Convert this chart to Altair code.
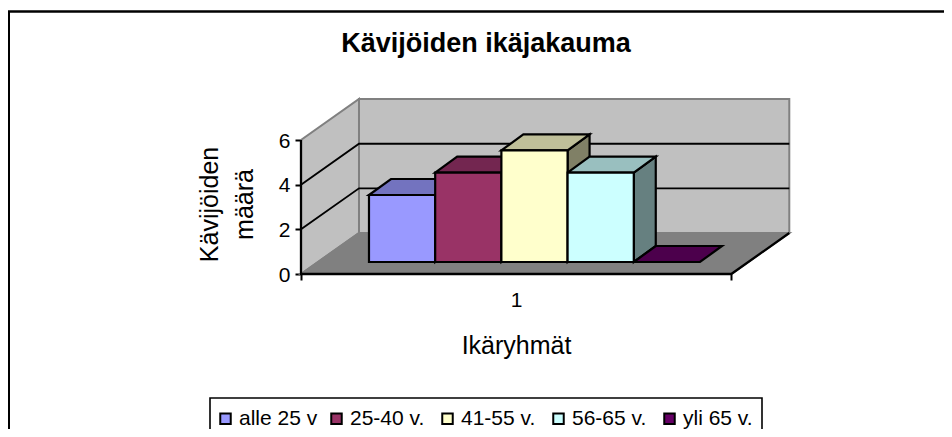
import altair as alt
import pandas as pd

SERIES = ["alle 25 v", "25-40 v.", "41-55 v.", "56-65 v.", "yli 65 v."]
VALUES = [3, 4, 5, 4, 0]
FRONT = ["#9999FF", "#993366", "#FFFFCC", "#CCFFFF", "#660066"]
TOP = ["#7373BF", "#732650", "#BFBF99", "#99BFBF", "#4C004C"]
SIDE = ["#4D4D80", "#4D1A33", "#808066", "#668080", "#330033"]
Y_TICKS = [0, 2, 4, 6]
GRID = [2, 4]

W, H = 936, 421
PX_X, PX_Y = 66.2, 22.33
ORIGIN_X, ORIGIN_Y = 293, 266
FLOOR_W = 6.5
WALL_DX, WALL_DY = 0.876, 1.836
BAR_X, BAR_Y = 1.027, 0.537
DEPTH_DX, DEPTH_DY = 0.332, 0.717
MAX_V = 6

xs = alt.Scale(domain=[-ORIGIN_X / PX_X, (W - ORIGIN_X) / PX_X], nice=False, zero=False)
ys = alt.Scale(domain=[-(H - ORIGIN_Y) / PX_Y, ORIGIN_Y / PX_Y], nice=False, zero=False)

x_mid = FLOOR_W / 2
x_axis = alt.Axis(
    values=[0, x_mid, FLOOR_W], offset=-(H - ORIGIN_Y), domain=False, grid=False,
    tickColor="black", tickWidth=2, tickSize=6,
    tickOpacity={"condition": {"test": f"datum.value == {x_mid}", "value": 0}, "value": 1},
    labelExpr=f"datum.value == {x_mid} ? '1' : ''",
    labelFontSize=21, labelColor="black", labelPadding=9,
    title="Ikäryhmät", titleFontSize=25, titleFontWeight="normal", titleColor="black",
    titleX=508, titleY=79, titleBaseline="alphabetic", titleAlign="center",
)
y_axis = alt.Axis(
    values=Y_TICKS, offset=-ORIGIN_X, domain=False, grid=False,
    tickColor="black", tickWidth=2, tickSize=6,
    labelFontSize=21, labelColor="black", labelPadding=5, labelOffset=1,
    title=["Kävijöiden", "määrä"], titleFontSize=25, titleFontWeight="normal", titleColor="black",
    titleX=-79, titleY=196, titleLineHeight=35, titleAlign="center",
)


def X():
    return alt.X("x:Q", scale=xs, axis=x_axis)


def Y():
    return alt.Y("y:Q", scale=ys, axis=y_axis)


# walls and floor
back = pd.DataFrame([{"x": WALL_DX, "x2": WALL_DX + FLOOR_W, "y": WALL_DY, "y2": WALL_DY + MAX_V}])
back_layer = alt.Chart(back).mark_rect(fill="#C0C0C0", stroke="#808080", strokeWidth=2).encode(
    x=X(), x2="x2:Q", y=Y(), y2="y2:Q",
)
side = pd.DataFrame([
    {"x": 0, "y": 0, "y2": MAX_V},
    {"x": WALL_DX, "y": WALL_DY, "y2": WALL_DY + MAX_V},
])
side_layer = alt.Chart(side).mark_area(fill="#C0C0C0", stroke="#808080", strokeWidth=2).encode(
    x=X(), y=Y(), y2="y2:Q"
)
floor = pd.DataFrame([
    {"x": 0, "y": 0, "y2": 0},
    {"x": WALL_DX, "y": 0, "y2": WALL_DY},
    {"x": FLOOR_W, "y": 0, "y2": WALL_DY},
    {"x": FLOOR_W + WALL_DX, "y": WALL_DY, "y2": WALL_DY},
])
floor_layer = alt.Chart(floor).mark_area(fill="#808080", stroke="#808080", strokeWidth=2).encode(
    x=X(), y=Y(), y2="y2:Q"
)

# gridlines and black axis lines
rows = []
for v in GRID:
    rows += [
        {"g": f"g{v}", "o": 0, "x": 0, "y": v},
        {"g": f"g{v}", "o": 1, "x": WALL_DX, "y": v + WALL_DY},
        {"g": f"g{v}", "o": 2, "x": WALL_DX + FLOOR_W, "y": v + WALL_DY},
    ]
grid_layer = alt.Chart(pd.DataFrame(rows)).mark_line(color="black", strokeWidth=1.9).encode(
    x=X(), y=Y(), detail="g:N", order="o:Q"
)
edge = pd.DataFrame([
    {"o": 0, "x": 0, "y": MAX_V},
    {"o": 1, "x": 0, "y": 0},
    {"o": 2, "x": FLOOR_W, "y": 0},
    {"o": 3, "x": FLOOR_W + WALL_DX, "y": WALL_DY},
])
edge_layer = alt.Chart(edge).mark_line(color="black", strokeWidth=2.3).encode(
    x=X(), y=Y(), order="o:Q"
)

# bars
faces, fronts = [], []
for i, (name, v) in enumerate(zip(SERIES, VALUES)):
    x0 = BAR_X + i
    x1 = x0 + 1
    y0 = BAR_Y
    yt = BAR_Y + v
    if v > 0:
        faces += [
            {"id": f"s{i}", "c": SIDE[i], "x": x1, "y": y0, "y2": yt},
            {"id": f"s{i}", "c": SIDE[i], "x": x1 + DEPTH_DX, "y": y0 + DEPTH_DY, "y2": yt + DEPTH_DY},
        ]
    faces += [
        {"id": f"t{i}", "c": TOP[i], "x": x0, "y": yt, "y2": yt},
        {"id": f"t{i}", "c": TOP[i], "x": x0 + DEPTH_DX, "y": yt, "y2": yt + DEPTH_DY},
        {"id": f"t{i}", "c": TOP[i], "x": x1, "y": yt, "y2": yt + DEPTH_DY},
        {"id": f"t{i}", "c": TOP[i], "x": x1 + DEPTH_DX, "y": yt + DEPTH_DY, "y2": yt + DEPTH_DY},
    ]
    fronts.append({"sarja": name, "x": x0, "x2": x1, "y": y0, "y2": yt})

face_layer = alt.Chart(pd.DataFrame(faces)).mark_area(stroke="black", strokeWidth=2.2).encode(
    x=X(), y=Y(), y2="y2:Q", detail="id:N",
    fill=alt.Fill("c:N", scale=None, legend=None),
)
legend = alt.Legend(
    title=None, orient="none", legendX=207, legendY=400, direction="horizontal", columns=5,
    gridAlign="all", columnPadding=8, padding=0,
    symbolType="square", symbolSize=110, symbolStrokeColor="black", symbolStrokeWidth=2,
    labelFontSize=21, labelColor="black", labelOffset=3,
)
front_layer = alt.Chart(pd.DataFrame(fronts)).mark_rect(stroke="black", strokeWidth=2.2).encode(
    x=X(), x2="x2:Q", y=Y(), y2="y2:Q",
    color=alt.Color("sarja:N", sort=SERIES, scale=alt.Scale(domain=SERIES, range=FRONT), legend=legend),
)

# chart frame and legend frame
one = pd.DataFrame([{"k": 1}])
frame_top = alt.Chart(one).mark_rule(color="black", strokeWidth=2.4).encode(
    x=alt.value(0), x2=alt.value(W), y=alt.value(3.5)
)
frame_left = alt.Chart(one).mark_rule(color="black", strokeWidth=2).encode(
    x=alt.value(1), y=alt.value(3), y2=alt.value(H)
)
legend_box = alt.Chart(one).mark_rect(fill="white", stroke="black", strokeWidth=1.6).encode(
    x=alt.value(202), x2=alt.value(754), y=alt.value(390), y2=alt.value(H + 10)
)

chart = alt.layer(
    frame_top, frame_left, back_layer, side_layer, floor_layer, grid_layer, edge_layer,
    face_layer, front_layer, legend_box,
).resolve_scale(fill="independent").properties(
    width=W, height=H, padding=0, autosize=alt.AutoSizeParams(type="none"),
    title=alt.TitleParams(
        "Kävijöiden ikäjakauma", fontSize=27, fontWeight="bold", color="black",
        anchor="middle", dx=10, dy=54,
    ),
).configure(font="Liberation Sans").configure_view(stroke=None)

chart.save("out.html", embed_options={"renderer": "svg", "actions": False})
